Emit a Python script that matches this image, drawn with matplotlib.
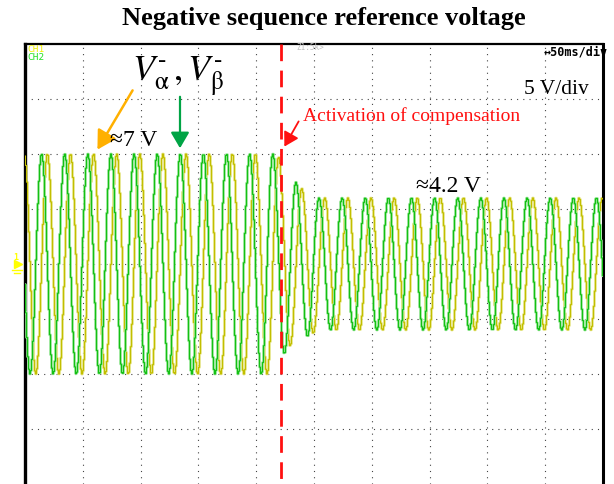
import numpy as np
import matplotlib
matplotlib.use('Agg')
import matplotlib.pyplot as plt

# ---------------- data ----------------
time_per_div_ms = 50
n_xdiv = 10
volts_per_grid = 3.5
n_ydiv = 8
activation_ms = 221.5
half_period_ms = 10

# first positive peak times (ms) of each trace
green_first_peak_ms = -5.6    # V_beta (CH2)
yellow_first_peak_ms = -0.6   # V_alpha (CH1)

# successive half-cycle extrema magnitudes (sign alternates, first is positive)
green_extrema = [7.0, 7.0, 7.0, 7.0, 7.0, 7.0, 7.0, 7.0, 7.0, 7.0,
                 7.0, 7.0, 7.0, 7.0, 7.0, 7.0, 7.0, 7.0, 7.0, 7.0,
                 7.0, 7.0, 7.0, 5.7, 5.2, 4.6, 4.2, 4.2, 4.2, 4.2,
                 4.2, 4.2, 4.2, 4.2, 4.2, 4.2, 4.2, 4.2, 4.2, 4.2,
                 4.2, 4.2, 4.2, 4.2, 4.2, 4.2, 4.2, 4.2, 4.2, 4.2,
                 4.2, 4.2]
yellow_extrema = [7.0, 7.0, 7.0, 7.0, 7.0, 7.0, 7.0, 7.0, 7.0, 7.0,
                  7.0, 7.0, 7.0, 7.0, 7.0, 7.0, 7.0, 7.0, 7.0, 7.0,
                  7.0, 7.0, 6.8, 5.2, 4.8, 4.4, 4.2, 4.2, 4.2, 4.2,
                  4.2, 4.2, 4.2, 4.2, 4.2, 4.2, 4.2, 4.2, 4.2, 4.2,
                  4.2, 4.2, 4.2, 4.2, 4.2, 4.2, 4.2, 4.2, 4.2, 4.2,
                  4.2, 4.2]

title = "Negative sequence reference voltage"
annot_before = "\u22487 V"
annot_after = "\u22484.2 V"
annot_event = "Activation of compensation"
scale_label = "5 V/div"
time_label = "\u219450ms/div"


def trace(t_first, extrema, t_end):
    ext = np.asarray(extrema, dtype=float)
    k = np.arange(len(ext))
    tk = t_first + half_period_ms * k
    vals = ext * np.where(k % 2 == 0, 1.0, -1.0)
    t = np.arange(0.0, t_end + 0.01, 0.865)
    idx = np.clip(np.searchsorted(tk, t, side='right') - 1, 0, len(tk) - 2)
    ph = (t - tk[idx]) / half_period_ms
    a, b = vals[idx], vals[idx + 1]
    y = (a + b) / 2 + (a - b) / 2 * np.cos(np.pi * ph)
    return t, y


W, H = 614, 484
plt.rcParams['mathtext.fontset'] = 'stix'
fig = plt.figure(figsize=(W / 100, H / 100), dpi=100)
fig.patch.set_facecolor('white')


def fp(x, y):
    return (x / W, 1 - y / H)


ax = fig.add_axes([25 / W, 0, 578 / W, 440 / H])
t_end = time_per_div_ms * n_xdiv
ymax = volts_per_grid * n_ydiv / 2
ax.set_xlim(0, t_end)
ax.set_ylim(-ymax, ymax)

# grid
for i in range(1, n_xdiv):
    ax.plot([i * time_per_div_ms] * 2, [-ymax, ymax], color='#444444', lw=0.8,
            linestyle=(0, (1, 4.6)), zorder=1)
for j in range(1, n_ydiv):
    yv = -ymax + j * volts_per_grid
    ax.plot([0, t_end], [yv, yv], color='#444444', lw=0.8,
            linestyle=(0, (1, 4.6)), zorder=1)

# traces
ty, yy = trace(yellow_first_peak_ms, yellow_extrema, t_end)
tg, yg = trace(green_first_peak_ms, green_extrema, t_end)
ax.plot(ty, yy, color='#e6e68a', lw=1.9, drawstyle='steps-mid', zorder=2)
ax.plot(ty, yy, color='#c2be00', lw=0.8, drawstyle='steps-mid', zorder=3)
ax.plot(tg, yg, color='#98e698', lw=1.9, drawstyle='steps-mid', zorder=4)
ax.plot(tg, yg, color='#14c014', lw=0.8, drawstyle='steps-mid', zorder=5)

# activation line
ax.plot([activation_ms, activation_ms], [ymax, -ymax], color='#ff1010', lw=2.0,
        linestyle=(0, (6, 3.4)), zorder=6, clip_on=False)

ax.set_xticks([])
ax.set_yticks([])
for s in ax.spines.values():
    s.set_color('black')
ax.spines['left'].set_linewidth(2.4)
ax.spines['right'].set_linewidth(2.2)
ax.spines['top'].set_linewidth(1.6)
ax.spines['bottom'].set_visible(False)

# texts
serif = ['Liberation Serif', 'DejaVu Serif']
fig.text(*fp(324, 19), title, ha='center', va='center', fontsize=19,
         fontweight='bold', family=serif)
fig.text(*fp(27, 49.5), "CH1", color='#f0f000', fontsize=6.8, family='DejaVu Sans Mono',
         ha='left', va='center')
fig.text(*fp(27, 57.5), "CH2", color='#22e022', fontsize=6.8, family='DejaVu Sans Mono',
         ha='left', va='center')
fig.text(*fp(608, 52), time_label, color='black', fontsize=8.5, family='DejaVu Sans Mono',
         fontweight='bold', ha='right', va='center')
fig.text(*fp(296, 48), "Z1:5k>", color='#c0c0c0', fontsize=5.5, family='DejaVu Sans Mono',
         ha='left', va='center')
fig.text(*fp(589, 89), scale_label, fontsize=15.5, family=serif, ha='right', va='center')
fig.text(*fp(110, 141), annot_before, fontsize=17, family=serif, ha='left', va='center')
fig.text(*fp(416, 187), annot_after, fontsize=17, family=serif, ha='left', va='center')
fig.text(*fp(303, 116), annot_event, fontsize=14, family=serif, color='#ff1010',
         ha='left', va='center')

fig.text(*fp(132, 76), r'$V_{\mathrm{\alpha}}^{\text{-}}\,,V_{\mathrm{\beta}}^{\text{-}}$',
         fontsize=26, ha='left', va='center')

# arrows
fig.add_artist(matplotlib.patches.FancyArrowPatch(
    fp(134, 88), fp(96, 152), transform=fig.transFigure,
    arrowstyle='-|>,head_length=7,head_width=4', color='#ffb000', lw=1.8,
    mutation_scale=1.6))
fig.add_artist(matplotlib.patches.FancyArrowPatch(
    fp(180, 94), fp(180, 151), transform=fig.transFigure,
    arrowstyle='-|>,head_length=6,head_width=3.5', color='#00a445', lw=1.6,
    mutation_scale=1.6))
fig.add_artist(matplotlib.patches.FancyArrowPatch(
    fp(300, 119), fp(283, 149), transform=fig.transFigure,
    arrowstyle='-|>,head_length=6,head_width=3.5', color='#ff1010', lw=1.3,
    mutation_scale=1.4))

# ground marker for channel 1
fig.text(*fp(16, 258), "1", color='#ffff00', fontsize=6, family='DejaVu Sans Mono',
         ha='center', va='center', fontweight='bold')
fig.add_artist(matplotlib.lines.Line2D([fp(18, 264)[0]], [fp(18, 264)[1]], marker='>',
               color='#ffff00', markersize=6, transform=fig.transFigure))
fig.add_artist(matplotlib.lines.Line2D([fp(12, 270)[0], fp(22, 270)[0]],
               [fp(12, 270)[1], fp(22, 270)[1]], color='#ffff00', lw=1,
               transform=fig.transFigure))
fig.add_artist(matplotlib.lines.Line2D([fp(14, 273)[0], fp(20, 273)[0]],
               [fp(14, 273)[1], fp(20, 273)[1]], color='#ffff00', lw=1,
               transform=fig.transFigure))

fig.savefig('out.png', dpi=100, facecolor='white')
